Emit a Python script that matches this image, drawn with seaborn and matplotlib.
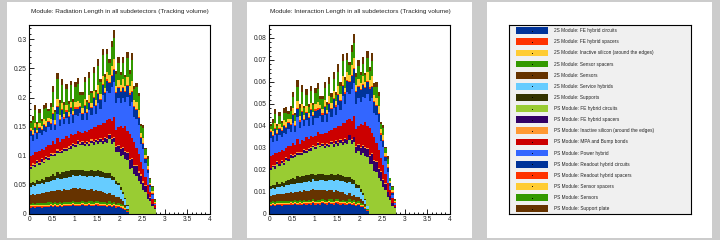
import numpy as np
import pandas as pd
import seaborn as sns
import matplotlib.pyplot as plt
from matplotlib.patches import Rectangle
from matplotlib.ticker import MultipleLocator, FuncFormatter

sns.set_style("ticks")
plt.rcParams["font.family"] = ["Liberation Sans", "DejaVu Sans"]

# eta bins (0.05 wide, 0 -> 2.8)
eta_centres = np.round(np.arange(56) * 0.05 + 0.025, 3)

# radiation length per bin, in units of 1e-3
fe_circ_2s = [11, 12, 11, 12, 12, 11, 12, 12, 12, 13, 12, 14, 12, 13, 12, 14,
              13, 14, 13, 15, 13, 14, 13, 15, 14, 13, 15, 14, 13, 15, 14, 13,
              14, 13, 12, 14, 12, 13, 11, 12, 10, 9, 7, 4, 0, 0, 0, 0,
              0, 0, 0, 0, 0, 0, 0, 0]
fe_spacer_2s = [2, 2, 2, 2, 2, 3, 2, 2, 2, 2, 2, 2, 2, 3, 2, 2,
                2, 2, 2, 2, 2, 2, 3, 2, 2, 2, 2, 2, 2, 2, 3, 2,
                2, 2, 2, 2, 2, 3, 2, 2, 2, 2, 2, 1, 0, 0, 0, 0,
                0, 0, 0, 0, 0, 0, 0, 0]
inactive_2s = [2, 2, 2, 2, 2, 2, 2, 2, 2, 2, 2, 2, 2, 2, 2, 2,
               2, 2, 2, 2, 2, 2, 2, 2, 2, 2, 2, 2, 2, 2, 2, 2,
               2, 2, 2, 2, 2, 2, 2, 2, 2, 2, 1, 1, 0, 0, 0, 0,
               0, 0, 0, 0, 0, 0, 0, 0]
sensor_spacer_2s = [3, 3, 3, 3, 3, 3, 3, 3, 4, 3, 3, 3, 3, 3, 3, 3,
                    3, 3, 3, 4, 3, 3, 3, 3, 3, 3, 3, 4, 3, 3, 3, 3,
                    3, 3, 3, 4, 3, 3, 3, 3, 3, 3, 2, 1, 0, 0, 0, 0,
                    0, 0, 0, 0, 0, 0, 0, 0]
sensors_2s = [14, 15, 15, 16, 16, 17, 17, 18, 18, 19, 20, 19, 22, 20, 21, 22,
              22, 21, 23, 22, 24, 22, 23, 21, 22, 21, 20, 21, 19, 20, 18, 19,
              17, 16, 15, 14, 13, 12, 11, 10, 8, 6, 4, 2, 0, 0, 0, 0,
              0, 0, 0, 0, 0, 0, 0, 0]
service_2s = [15, 16, 15, 17, 16, 17, 16, 18, 17, 18, 19, 18, 20, 19, 20, 19,
              20, 21, 20, 22, 21, 22, 23, 22, 22, 23, 24, 23, 25, 24, 26, 25,
              25, 26, 27, 26, 27, 25, 22, 20, 17, 13, 9, 5, 0, 0, 0, 0,
              0, 0, 0, 0, 0, 0, 0, 0]
supports_2s = [6, 5, 6, 7, 6, 7, 6, 8, 8, 9, 10, 8, 11, 9, 12, 10,
               11, 10, 12, 9, 10, 11, 9, 10, 9, 10, 8, 9, 10, 8, 9, 10,
               9, 8, 9, 8, 7, 6, 5, 5, 4, 3, 2, 1, 0, 0, 0, 0,
               0, 0, 0, 0, 0, 0, 0, 0]
fe_circ_ps = [24, 27, 26, 29, 27, 30, 29, 32, 30, 33, 31, 34, 33, 35, 33, 36,
              35, 38, 37, 41, 40, 45, 42, 44, 42, 46, 43, 47, 44, 49, 45, 50,
              48, 54, 52, 58, 55, 59, 50, 53, 54, 63, 68, 77, 78, 79, 68, 66,
              56, 52, 42, 38, 26, 22, 13, 9]
fe_spacer_ps = [3, 3, 4, 3, 3, 4, 3, 3, 3, 4, 3, 3, 4, 3, 3, 4,
                3, 3, 4, 3, 3, 4, 3, 4, 4, 3, 4, 4, 5, 4, 5, 5,
                5, 6, 6, 7, 7, 8, 9, 10, 11, 12, 12, 13, 14, 15, 15, 16,
                15, 14, 12, 10, 8, 6, 4, 2]
inactive_ps = [2, 2, 2, 2, 2, 2, 2, 2, 2, 2, 2, 2, 2, 2, 2, 2,
               2, 2, 2, 2, 2, 2, 2, 2, 2, 2, 2, 2, 2, 2, 2, 2,
               2, 2, 2, 2, 2, 2, 2, 2, 2, 2, 2, 2, 2, 2, 2, 2,
               2, 2, 2, 1, 1, 1, 1, 0]
mpa_ps = [18, 15, 20, 14, 19, 16, 18, 15, 20, 14, 21, 15, 20, 14, 19, 14,
          21, 15, 19, 13, 17, 15, 18, 14, 20, 16, 21, 18, 24, 20, 26, 22,
          30, 24, 32, 26, 30, 34, 28, 30, 38, 32, 42, 36, 44, 34, 38, 30,
          30, 22, 22, 15, 15, 9, 8, 4]
power_ps = [34, 24, 33, 22, 31, 24, 33, 25, 31, 25, 36, 24, 40, 28, 38, 26,
            31, 24, 35, 22, 33, 27, 32, 22, 32, 21, 34, 24, 36, 23, 38, 28,
            48, 36, 50, 44, 58, 60, 45, 50, 40, 52, 42, 58, 48, 62, 44, 50,
            50, 30, 34, 24, 20, 8, 6, 2]
readout_circ_ps = [8, 9, 8, 10, 9, 8, 10, 9, 9, 10, 11, 9, 12, 10, 11, 10,
                   11, 12, 10, 13, 11, 12, 10, 11, 12, 11, 13, 12, 14, 13, 15, 14,
                   16, 15, 17, 18, 19, 20, 18, 17, 18, 17, 16, 18, 19, 17, 16, 14,
                   12, 10, 8, 6, 5, 4, 3, 1]
readout_spacer_ps = [2, 2, 2, 2, 2, 2, 2, 2, 2, 2, 2, 2, 2, 2, 2, 2,
                     2, 2, 2, 2, 2, 2, 2, 2, 2, 2, 2, 2, 2, 2, 2, 2,
                     2, 2, 2, 2, 2, 2, 2, 2, 2, 2, 2, 2, 2, 2, 2, 2,
                     2, 2, 2, 2, 2, 1, 1, 1]
sensor_spacer_ps = [4, 7, 8, 4, 7, 5, 8, 9, 5, 8, 10, 6, 12, 7, 11, 6,
                    10, 6, 9, 5, 9, 11, 6, 8, 10, 5, 11, 7, 11, 8, 13, 9,
                    14, 8, 13, 11, 16, 17, 10, 12, 10, 14, 8, 15, 12, 17, 10, 12,
                    11, 7, 8, 5, 6, 3, 3, 2]
sensors_ps = [8, 18, 22, 10, 17, 9, 18, 22, 12, 20, 26, 14, 34, 20, 30, 16,
              26, 14, 28, 16, 26, 30, 14, 22, 28, 12, 30, 16, 30, 14, 34, 20,
              36, 18, 30, 22, 32, 36, 20, 30, 18, 28, 16, 32, 22, 36, 20, 26,
              24, 12, 18, 10, 12, 6, 7, 3]
support_ps = [3, 6, 8, 3, 6, 4, 7, 9, 4, 7, 9, 4, 11, 6, 10, 4,
              9, 5, 8, 4, 8, 10, 4, 6, 9, 4, 10, 5, 10, 4, 11, 6,
              11, 5, 10, 6, 10, 14, 5, 9, 5, 10, 4, 11, 6, 12, 5, 7,
              6, 3, 5, 2, 4, 1, 2, 1]

labels = [
    "2S Module: FE hybrid circuits",
    "2S Module: FE hybrid spacers",
    "2S Module: Inactive silicon (around the edges)",
    "2S Module: Sensor spacers",
    "2S Module: Sensors",
    "2S Module: Service hybrids",
    "2S Module: Supports",
    "PS Module: FE hybrid circuits",
    "PS Module: FE hybrid spacers",
    "PS Module: Inactive silicon (around the edges)",
    "PS Module: MPA and Bump bonds",
    "PS Module: Power hybrid",
    "PS Module: Readout hybrid circuits",
    "PS Module: Readout hybrid spacers",
    "PS Module: Sensor spacers",
    "PS Module: Sensors",
    "PS Module: Support plate",
]
colors = ["#003399", "#ff3300", "#ffcc33", "#339900", "#663300", "#66ccff",
          "#333300", "#99cc33", "#330066", "#ff9933", "#cc0000", "#3366ff",
          "#003399", "#ff3300", "#ffcc33", "#339900", "#663300"]
# interaction length / radiation length for each material
int_ratio = [0.33, 0.28, 0.20, 0.28, 0.20, 0.20, 0.28, 0.29, 0.28, 0.20,
             0.28, 0.25, 0.30, 0.28, 0.27, 0.19, 0.30]

layers = [fe_circ_2s, fe_spacer_2s, inactive_2s, sensor_spacer_2s, sensors_2s,
          service_2s, supports_2s, fe_circ_ps, fe_spacer_ps, inactive_ps,
          mpa_ps, power_ps, readout_circ_ps, readout_spacer_ps,
          sensor_spacer_ps, sensors_ps, support_ps]

rows = []
for lab, vals, r in zip(labels, layers, int_ratio):
    for e, v in zip(eta_centres, vals):
        rows.append((lab, float(e), v / 1000, v / 1000 * r))
df = pd.DataFrame(rows, columns=["component", "eta", "rad", "intl"])
pal = dict(zip(labels, colors))

fig = plt.figure(figsize=(7.2, 2.4), dpi=100, facecolor="#cccccc")
for x0 in (7, 247, 487):
    fig.patches.append(Rectangle((x0 / 720, 2 / 240), 225 / 720, 236 / 240,
                                 transform=fig.transFigure, facecolor="white",
                                 edgecolor="none", zorder=-10))

fmt = FuncFormatter(lambda v, p: f"{v:g}")

panels = [
    ("rad", 29.3, 0.3246, 0.05, 0.01,
     "Module: Radiation Length in all subdetectors (Tracking volume)", 120),
    ("intl", 269.3, 0.0859, 0.01, 0.002,
     "Module: Interaction Length in all subdetectors (Tracking volume)", 360),
]
for col, left, ymax, major, minor, title, tx in panels:
    ax = fig.add_axes([left / 720, 26 / 240, 180.7 / 720, 189 / 240])
    ax.set_facecolor("white")
    sns.histplot(data=df, x="eta", weights=col, hue="component",
                 hue_order=labels[::-1], multiple="stack", binwidth=0.05,
                 binrange=(0, 2.8), palette=pal, alpha=1, linewidth=0,
                 legend=False, ax=ax)
    ax.set_xlim(0, 4)
    ax.set_ylim(0, ymax)
    ax.set_xlabel("")
    ax.set_ylabel("")
    ax.xaxis.set_major_locator(MultipleLocator(0.5))
    ax.xaxis.set_minor_locator(MultipleLocator(0.1))
    ax.yaxis.set_major_locator(MultipleLocator(major))
    ax.yaxis.set_minor_locator(MultipleLocator(minor))
    ax.xaxis.set_major_formatter(fmt)
    ax.yaxis.set_major_formatter(fmt)
    ax.tick_params(which="both", direction="in", top=False, right=False,
                   width=0.6, labelsize=4.8, color="black")
    ax.tick_params(which="major", length=3.3)
    ax.tick_params(which="minor", length=1.7)
    ax.tick_params(axis="x", pad=1.5)
    ax.tick_params(axis="y", pad=2)
    for s in ax.spines.values():
        s.set_visible(True)
        s.set_linewidth(0.8)
        s.set_color("black")
    fig.text(tx / 720, 1 - 11 / 240, title, ha="center", va="center",
             fontsize=4.6)

# legend pad
lax = fig.add_axes([509 / 720, 26 / 240, 182 / 720, 189 / 240])
lax.set_facecolor("#f0f0f0")
lax.set_xlim(0, 1)
lax.set_ylim(0, 1)
lax.set_xticks([])
lax.set_yticks([])
for s in lax.spines.values():
    s.set_linewidth(0.8)
    s.set_color("black")
for i, (lab, c) in enumerate(zip(labels, colors)):
    yc = (214 - (30.7 + 11.125 * i)) / 189
    lax.add_patch(Rectangle((0.0385, yc - 0.018), 0.176, 0.036,
                            facecolor=c, edgecolor="none"))
    lax.plot([0.126], [yc], marker="s", ms=0.6, color="black", mew=0)
    lax.text(0.247, yc, lab, ha="left", va="center", fontsize=3.4,
             color="#222222")

fig.savefig("out.png", dpi=100, facecolor=fig.get_facecolor())
